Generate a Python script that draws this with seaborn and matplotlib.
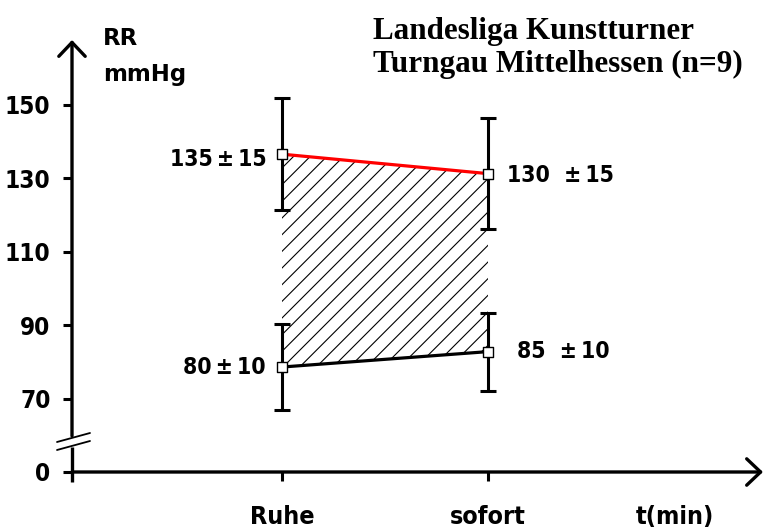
import matplotlib
matplotlib.use("Agg")
import matplotlib.pyplot as plt
import pandas as pd
import seaborn as sns
from matplotlib import font_manager
from matplotlib.transforms import blended_transform_factory

# ==========================
# Data (the "0" of the broken axis sits at 50)
# ==========================
zeitpunkte = ["Ruhe", "sofort"]
x_pos = [0, 1]
sys_mittel = [136.6, 131.3]
sys_sd = [15.3, 15.2]
dia_mittel = [78.6, 82.8]
dia_sd = [11.7, 10.6]
sys_labels = ["135\u2009±\u200915", "130  ±\u200915"]
dia_labels = ["80\u2009±\u200910", "85  ±\u200910"]
y_ticks = [50, 70, 90, 110, 130, 150]
y_ticklabels = ["0", "70", "90", "110", "130", "150"]

# ==========================
# Style
# ==========================
sns.set_theme(style="white")
names = {f.name for f in font_manager.fontManager.ttflist}
narrow = "Liberation Sans Narrow" if "Liberation Sans Narrow" in names else "DejaVu Sans"
plt.rcParams["font.family"] = [narrow, "DejaVu Sans"]
plt.rcParams["font.stretch"] = "condensed"
plt.rcParams["hatch.linewidth"] = 0.8
for k in ["text.color", "axes.labelcolor", "xtick.color", "ytick.color"]:
    plt.rcParams[k] = "black"
serif = ["Liberation Serif", "DejaVu Serif"]
FS = 17.5

W, H = 764, 529
fig = plt.figure(figsize=(W / 100, H / 100), dpi=100)

# axes box in pixels: y axis at x=72, x axis at y=472, top arrow at y=40
ax_l, ax_r, ax_t, ax_b = 72, 763, 40, 472
ax = fig.add_axes([ax_l / W, 1 - ax_b / H, (ax_r - ax_l) / W, (ax_b - ax_t) / H])

px_x = 206.0          # pixels per category step
px_y = 3.67           # pixels per mmHg
x0_px, y0_px = 282, 472
ax.set_xlim(-(x0_px - ax_l) / px_x, (ax_r - x0_px) / px_x)
ax.set_ylim(50, 50 + (ax_b - ax_t) / px_y)


def px2x(px):
    return (px - x0_px) / px_x


def px2y(py):
    return 50 + (y0_px - py) / px_y


# ==========================
# Hatched area, lines, error bars, markers
# ==========================
ax.fill_between(x_pos, dia_mittel, sys_mittel, facecolor="none",
                edgecolor="black", hatch="//", linewidth=0, zorder=1)

df = pd.DataFrame({
    "x": x_pos * 2,
    "RR": sys_mittel + dia_mittel,
    "Reihe": ["sys"] * 2 + ["dia"] * 2,
})
sns.lineplot(data=df, x="x", y="RR", hue="Reihe", sort=False,
             palette={"sys": "#ff0000", "dia": "black"}, linewidth=2.3,
             legend=False, ax=ax, zorder=2)

ax.errorbar(x_pos * 2, sys_mittel + dia_mittel, yerr=sys_sd + dia_sd,
            fmt="none", ecolor="black", elinewidth=2.2, capsize=5.8,
            capthick=2.2, zorder=3)

sns.scatterplot(data=df, x="x", y="RR", marker="s", s=42, color="white",
                edgecolor="black", linewidth=1.0, ax=ax, zorder=5,
                legend=False)

# value labels
VS = 16.5
ax.annotate(sys_labels[0], (x_pos[0], sys_mittel[0]), xytext=(-11, -4),
            textcoords="offset points", ha="right", va="center",
            fontsize=VS, fontweight="bold")
ax.annotate(dia_labels[0], (x_pos[0], dia_mittel[0]), xytext=(-12, 0),
            textcoords="offset points", ha="right", va="center",
            fontsize=VS, fontweight="bold")
ax.annotate(sys_labels[1], (x_pos[1], sys_mittel[1]), xytext=(14, -1),
            textcoords="offset points", ha="left", va="center",
            fontsize=VS, fontweight="bold")
ax.annotate(dia_labels[1], (x_pos[1], dia_mittel[1]), xytext=(21, 0),
            textcoords="offset points", ha="left", va="center",
            fontsize=VS, fontweight="bold")

# ==========================
# Axes: arrows, broken y axis, ticks
# ==========================
for s in ax.spines.values():
    s.set_visible(False)

lw_ax = 2.4
arrow = dict(arrowstyle="->,head_length=1.0,head_width=0.95", lw=lw_ax,
             color="black", mutation_scale=10, shrinkA=0, shrinkB=0)
xl = ax.get_xlim()[0]
ax.annotate("", xy=(1, 0), xytext=(0, 0), xycoords="axes fraction",
            textcoords="axes fraction", arrowprops=arrow)
ax.annotate("", xy=(0, 1), xytext=(xl, px2y(436)),
            xycoords="axes fraction", textcoords="data", arrowprops=arrow)
ax.plot([xl, xl], [px2y(482), px2y(447)], color="black", lw=lw_ax,
        clip_on=False, solid_capstyle="butt")
ax.plot([px2x(57), px2x(90)], [px2y(442), px2y(433)], color="black", lw=1.3,
        clip_on=False)
ax.plot([px2x(57), px2x(90)], [px2y(450), px2y(441)], color="black", lw=1.3,
        clip_on=False)

ax.set_yticks(y_ticks, y_ticklabels)
ax.set_xticks(x_pos, zeitpunkte)
ax.tick_params(axis="y", left=True, length=6.5, width=2.2, pad=9,
               labelsize=FS, direction="out")
ax.tick_params(axis="x", bottom=True, length=6.5, width=2.2, pad=17,
               labelsize=18, direction="out")
for lab in ax.get_xticklabels() + ax.get_yticklabels():
    lab.set_fontweight("bold")
ax.grid(False)
ax.set_xlabel("")
ax.set_ylabel("")
ax.text(px2x(675), (ax_b - 505) / (ax_b - ax_t), "t(min)",
        transform=blended_transform_factory(ax.transData, ax.transAxes),
        ha="center", va="top", fontsize=18, fontweight="bold")

# y unit and title
fig.text(103 / W, 1 - 45 / H, "RR", fontsize=16.5, fontweight="bold",
         fontstretch="normal", va="baseline")
fig.text(103 / W, 1 - 81 / H, "mmHg", fontsize=16.5, fontweight="bold",
         fontstretch="normal", va="baseline")
fig.text(373 / W, 1 - 39 / H, "Landesliga Kunstturner", family=serif,
         fontsize=22.4, fontweight="bold", va="baseline")
fig.text(373 / W, 1 - 72 / H, "Turngau Mittelhessen (n=9)", family=serif,
         fontsize=22.4, fontweight="bold", va="baseline")

plt.savefig("out.png", dpi=100)
